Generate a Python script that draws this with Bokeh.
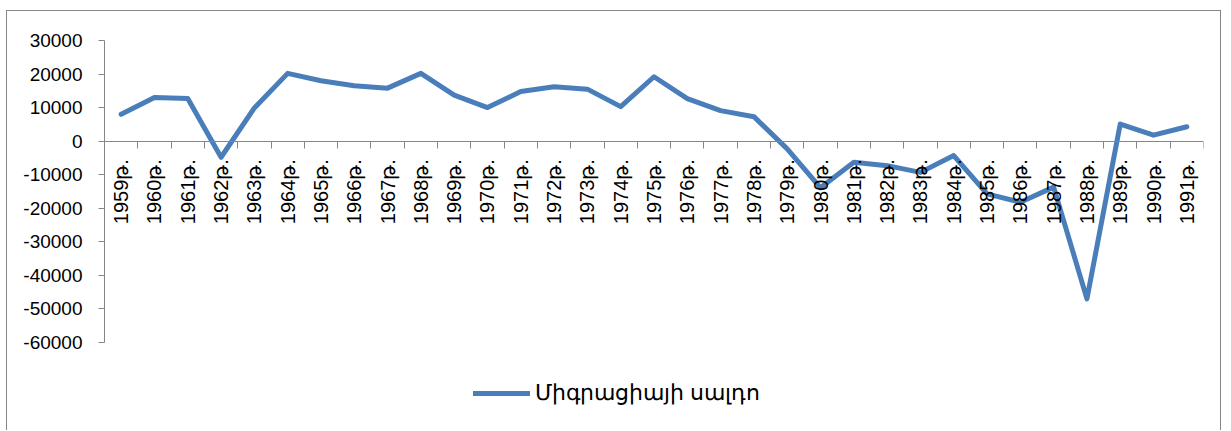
import numpy as np
from bokeh.plotting import figure
from bokeh.models import Range1d, FixedTicker, LinearAxis, Legend, LegendItem
from bokeh.embed import file_html
from bokeh.resources import INLINE

years = [f"{y}թ." for y in range(1959, 1992)]
saldo = [8000, 13000, 12700, -4800, 9900, 20200, 18000, 16500, 15800, 20200,
         13700, 10000, 14800, 16200, 15500, 10300, 19200, 12700, 9100, 7300,
         -2300, -13900, -6300, -7300, -9300, -4300, -15700, -18200, -13700, -47000,
         5100, 1800, 4300]
y_ticks = [-60000, -50000, -40000, -30000, -20000, -10000, 0, 10000, 20000, 30000]
y_tick_labels = ["-60000", "-50000", "-40000", "-30000", "-20000", "-10000",
                 "0", "10000", "20000", "30000"]
series_name = "Միգրացիայի սալդո"

n = len(years)
xs = list(range(1, n + 1))

FONT = "Liberation Sans"
GRAY = "#868686"
BLUE = "#4A7EBB"

# layout (pixels)
FIG_W, FIG_H = 1215, 420
TOP = 29
AXIS_PX = 302                       # height of the -60000..30000 axis
FRAME_H = FIG_H - TOP               # frame runs to the bottom so the legend is inside it
y_min, y_max = min(y_ticks), max(y_ticks)
y_start = y_max - (y_max - y_min) * FRAME_H / AXIS_PX

p = figure(width=FIG_W, height=FIG_H, output_backend="svg", toolbar_location=None,
           x_range=Range1d(0.5, n + 0.5), y_range=Range1d(y_start, y_max),
           min_border_left=97, min_border_right=19, min_border_top=TOP, min_border_bottom=0,
           x_axis_location=None)
p.styles = {"border": "1px solid #868686", "border-bottom": "none",
            "margin": "10px 0px 0px 6px"}
p.outline_line_color = None
p.xgrid.visible = False
p.ygrid.visible = False
p.background_fill_color = "white"
p.border_fill_color = "white"

# y axis
ya = p.yaxis[0]
ya.ticker = FixedTicker(ticks=y_ticks)
ya.bounds = (y_min, y_max)
ya.major_label_overrides = {t: s for t, s in zip(y_ticks, y_tick_labels)}
ya.axis_line_color = GRAY
ya.major_tick_line_color = GRAY
ya.major_tick_out = 6
ya.major_tick_in = 0
ya.minor_tick_line_color = None
ya.major_label_text_font = FONT
ya.major_label_text_font_size = "19px"
ya.major_label_text_color = "black"
ya.major_label_standoff = 16

# x axis at y=0 : boundary ticks
xa_ticks = LinearAxis(fixed_location=0,
                      ticker=FixedTicker(ticks=[i + 0.5 for i in range(n + 1)]),
                      axis_line_color=GRAY, major_tick_line_color=GRAY,
                      major_tick_out=7, major_tick_in=0, minor_tick_line_color=None,
                      major_label_text_font_size="0px", major_label_text_alpha=0)
p.add_layout(xa_ticks, "below")

# x axis labels
xa_lab = LinearAxis(fixed_location=0, ticker=FixedTicker(ticks=xs),
                    major_label_overrides={x: lab for x, lab in zip(xs, years)},
                    axis_line_color=None, major_tick_line_color=None, minor_tick_line_color=None,
                    major_tick_out=0, major_tick_in=0,
                    major_label_orientation=np.pi / 2, major_label_standoff=18,
                    major_label_text_font=FONT, major_label_text_font_size="20px",
                    major_label_text_color="black")
p.add_layout(xa_lab, "below")

r = p.line(xs, saldo, line_color=BLUE, line_width=5, line_join="round", line_cap="round")

legend = Legend(items=[LegendItem(label=series_name, renderers=[r])],
                location=(369, 25), margin=0, padding=0,
                border_line_alpha=0, background_fill_alpha=0,
                glyph_width=57, glyph_height=20, label_standoff=5,
                label_text_font=FONT, label_text_font_size="22px", label_text_color="black")
p.add_layout(legend, "center")

open("out.html", "w").write(file_html(p, INLINE))
